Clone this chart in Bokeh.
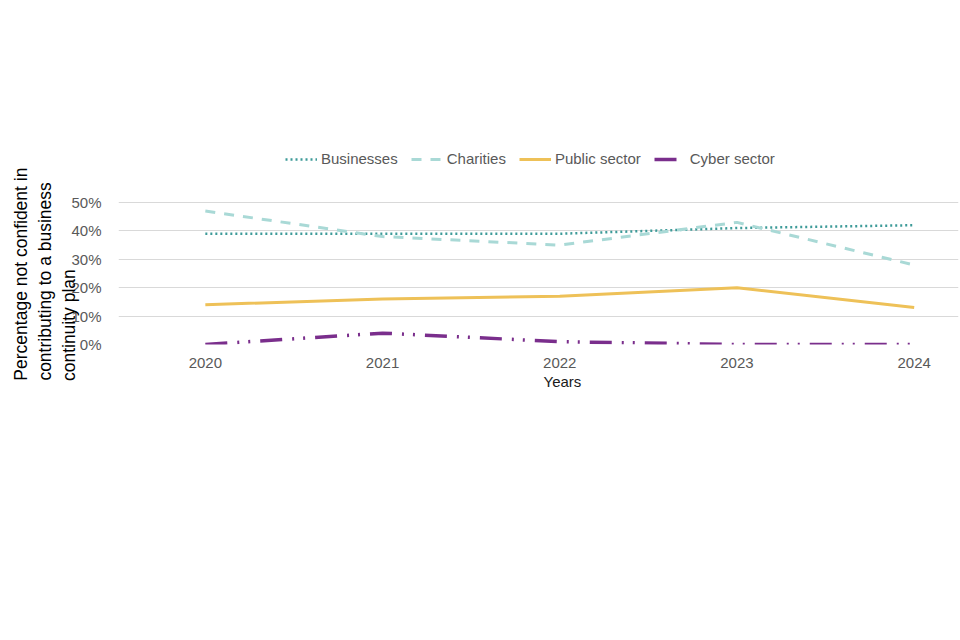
from bokeh.plotting import figure
from bokeh.models import ColumnDataSource, Legend, LegendItem, NumeralTickFormatter, FixedTicker, Range1d, Title
from bokeh.embed import file_html
from bokeh.resources import INLINE

years = [2020, 2021, 2022, 2023, 2024]
businesses = [0.39, 0.39, 0.39, 0.41, 0.42]
charities = [0.47, 0.38, 0.35, 0.43, 0.28]
public_sector = [0.14, 0.16, 0.17, 0.20, 0.13]
cyber_sector = [0.00, 0.04, 0.01, 0.00, 0.00]
y_ticks = [0, 0.1, 0.2, 0.3, 0.4, 0.5]
y_title_lines = ["Percentage not confident in", "contributing to a business", "continuity plan"]

FONT = "Liberation Sans"
GREY = "#595959"
NB = "\u00a0"

p = figure(width=960, height=640, output_backend="svg", toolbar_location=None,
           x_range=Range1d(2019.51, 2024.25), y_range=Range1d(0, 204 / 284),
           min_border_left=118, min_border_right=2, min_border_top=140, min_border_bottom=296)
p.outline_line_color = None
p.background_fill_color = "white"
p.border_fill_color = "white"

src = ColumnDataSource(dict(x=years, b=businesses, c=charities, ps=public_sector, cy=cyber_sector))
r_b = p.line("x", "b", source=src, line_color="#3C9A98", line_width=2.5, line_dash="2 3")
r_c = p.line("x", "c", source=src, line_color="#A9D9D6", line_width=3, line_dash="10 9")
r_p = p.line("x", "ps", source=src, line_color="#EEC158", line_width=3)
r_cy = p.line("x", "cy", source=src, line_color="#7A2E8C", line_width=3.5, line_dash="22 10 2 9 2 10")

p.xaxis.ticker = FixedTicker(ticks=years)
p.yaxis.ticker = FixedTicker(ticks=y_ticks)
p.yaxis.formatter = NumeralTickFormatter(format="0%")
for ax in (p.xaxis[0], p.yaxis[0]):
    ax.axis_line_color = None
    ax.major_tick_line_color = None
    ax.minor_tick_line_color = None
    ax.major_label_text_font = FONT
    ax.major_label_text_font_size = "15px"
    ax.major_label_text_color = GREY
    ax.axis_label_text_font = FONT
    ax.axis_label_text_font_style = "normal"
p.xaxis.major_label_standoff = 7
p.yaxis.major_label_standoff = 11

# left-align the wrapped lines and shift the block down (non-breaking space padding)
pads = [13, 16, 34]
p.yaxis.axis_label = "\n".join(line + NB * n for line, n in zip(y_title_lines, pads))
p.yaxis.axis_label_text_font_size = "17.5px"
p.yaxis.axis_label_text_color = "#000000"
p.yaxis.axis_label_standoff = -11

years_title = Title(text="Years", align="left", offset=425, text_font=FONT,
                    text_font_size="15px", text_font_style="normal", text_color="#1a1a1a",
                    standoff=0)
p.add_layout(years_title, "below")

p.xgrid.grid_line_color = None
p.ygrid.grid_line_color = "#D9D9D9"
p.ygrid.grid_line_width = 1

legend = Legend(items=[
    LegendItem(label="Businesses", renderers=[r_b]),
    LegendItem(label="Charities", renderers=[r_c]),
    LegendItem(label="Public sector", renderers=[r_p]),
    LegendItem(label="Cyber sector", renderers=[r_cy]),
], orientation="horizontal", location=(167, 177),
    label_text_font=FONT, label_text_font_size="15px", label_text_color=GREY,
    glyph_width=32, glyph_height=14, spacing=13, label_standoff=4,
    padding=0, margin=0, border_line_color=None, background_fill_alpha=0)
p.add_layout(legend, "center")

open("out.html", "w").write(file_html(p, INLINE))
